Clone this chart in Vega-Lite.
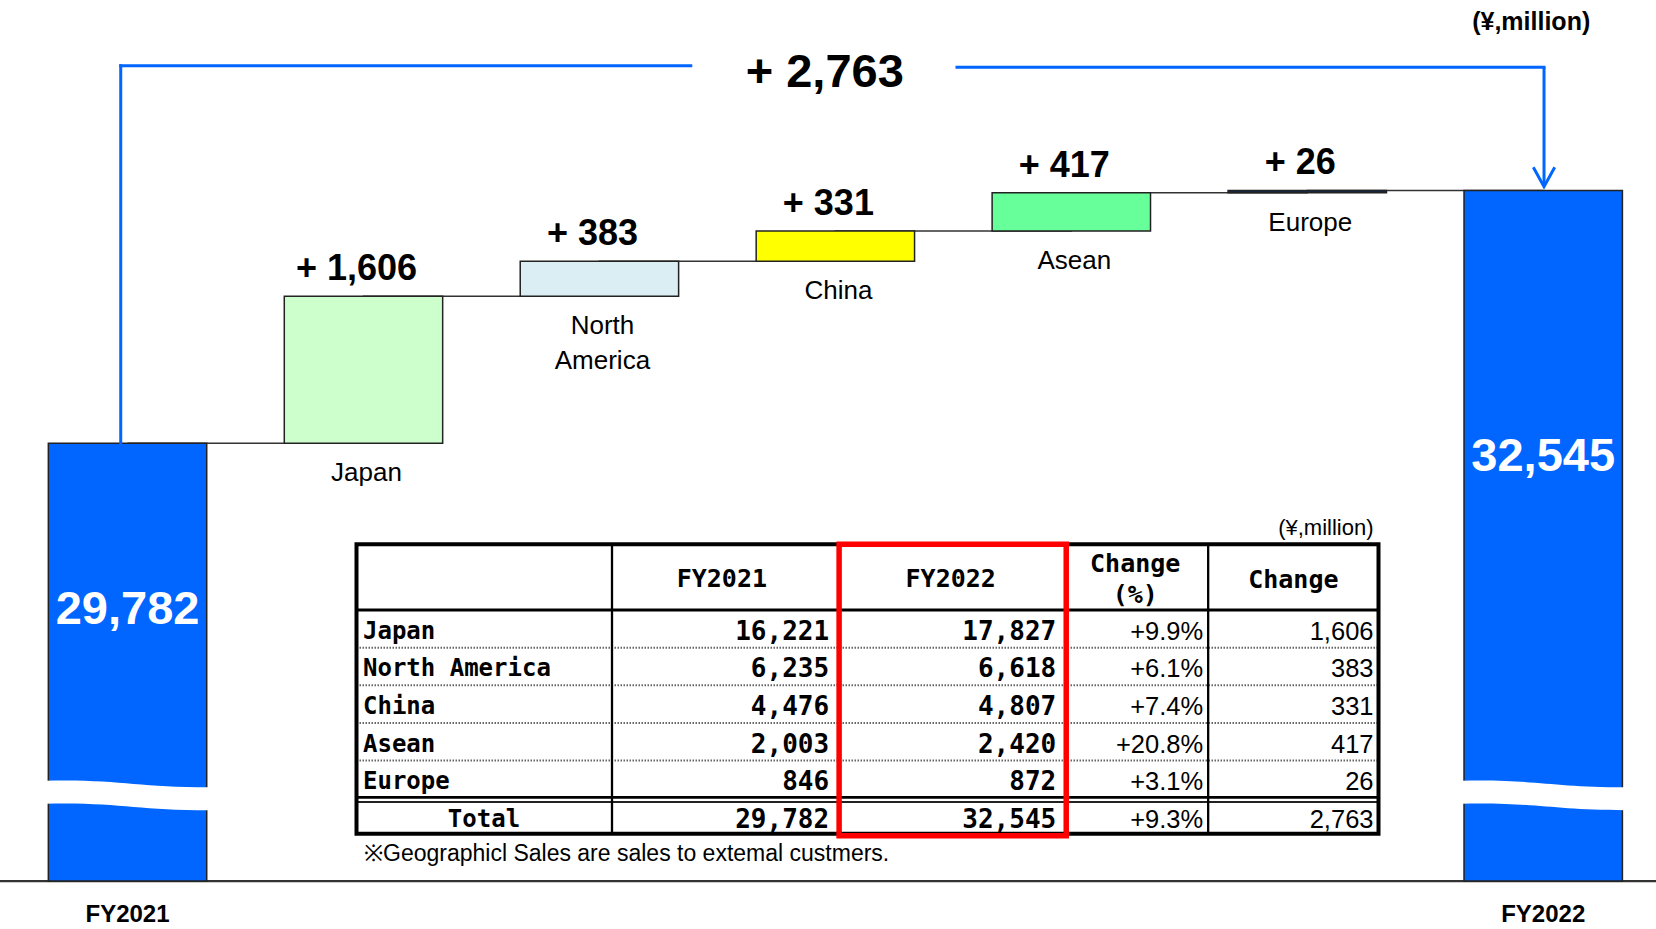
{
  "$schema": "https://vega.github.io/schema/vega-lite/v6.json",
  "width": 1656,
  "height": 929,
  "padding": 0,
  "autosize": "none",
  "background": "white",
  "config": {"view": {"stroke": null}, "axis": {"disable": true}, "legend": {"disable": true}},
  "datasets": {
    "bars": [
      {"i": 0, "cat": "FY2021", "start": 25000, "end": 29782, "label": "29,782", "name": ""},
      {"i": 1, "cat": "Japan", "start": 29782, "end": 31388, "label": "+ 1,606", "name": "Japan"},
      {"i": 2, "cat": "North America", "start": 31388, "end": 31771, "label": "+ 383", "name": "North\nAmerica"},
      {"i": 3, "cat": "China", "start": 31771, "end": 32102, "label": "+ 331", "name": "China"},
      {"i": 4, "cat": "Asean", "start": 32102, "end": 32519, "label": "+ 417", "name": "Asean"},
      {"i": 5, "cat": "Europe", "start": 32519, "end": 32545, "label": "+ 26", "name": "Europe"},
      {"i": 6, "cat": "FY2022", "start": 25000, "end": 32545, "label": "32,545", "name": ""}
    ],
    "breaks": [{"cat": "FY2021"}, {"cat": "FY2022"}],
    "regions": [
      {"region": "Japan", "row": 1, "FY2021": 16221, "FY2022": 17827, "pct": "+9.9%", "chg": 1606},
      {"region": "North America", "row": 2, "FY2021": 6235, "FY2022": 6618, "pct": "+6.1%", "chg": 383},
      {"region": "China", "row": 3, "FY2021": 4476, "FY2022": 4807, "pct": "+7.4%", "chg": 331},
      {"region": "Asean", "row": 4, "FY2021": 2003, "FY2022": 2420, "pct": "+20.8%", "chg": 417},
      {"region": "Europe", "row": 5, "FY2021": 846, "FY2022": 872, "pct": "+3.1%", "chg": 26},
      {"region": "Total", "row": 6, "FY2021": 29782, "FY2022": 32545, "pct": "+9.3%", "chg": 2763}
    ]
  },
  "layer": [
    {
      "layer": [
        {
          "data": {"name": "bars"},
          "mark": {"type": "line", "interpolate": "step-after", "color": "#333333", "strokeWidth": 1.5},
          "encoding": {
            "x": {"field": "cat", "type": "nominal", "scale": {"domain": ["FY2021", "Japan", "North America", "China", "Asean", "Europe", "FY2022"], "paddingInner": 0.3287, "paddingOuter": 0.1736, "align": 0.59}},
            "y": {"field": "end", "type": "quantitative", "scale": {"domain": [24476, 34625], "nice": false, "zero": false}},
            "order": {"field": "i"}
          }
        },
        {
          "data": {"values": [{}]},
          "mark": {"type": "rule", "color": "#333333", "strokeWidth": 2.3},
          "encoding": {
            "y": {"datum": 25000, "type": "quantitative", "scale": {"domain": [24476, 34625], "nice": false, "zero": false}}
          }
        },
        {
          "data": {"name": "bars"},
          "mark": {"type": "bar", "stroke": "#222222", "strokeWidth": 1.5},
          "encoding": {
            "x": {"field": "cat", "type": "nominal", "scale": {"domain": ["FY2021", "Japan", "North America", "China", "Asean", "Europe", "FY2022"], "paddingInner": 0.3287, "paddingOuter": 0.1736, "align": 0.59}},
            "y": {"field": "start", "type": "quantitative", "scale": {"domain": [24476, 34625], "nice": false, "zero": false}},
            "y2": {"field": "end"},
            "color": {"field": "cat", "type": "nominal", "legend": null, "scale": {"domain": ["FY2021", "Japan", "North America", "China", "Asean", "Europe", "FY2022"], "range": ["#0066FF", "#CCFFCC", "#DAEEF3", "#FFFF00", "#66FF99", "#13294B", "#0066FF"]}}
          }
        },
        {
          "data": {"name": "breaks"},
          "mark": {"type": "point", "shape": "M-1,-0.18C-0.1,-0.2 0.1,-0.1 1,-0.1L1,0.18C0.1,0.18 -0.1,0.08 -1,0.1Z", "size": 26896, "filled": true, "color": "#FFFFFF", "opacity": 1, "strokeWidth": 0},
          "encoding": {
            "x": {"field": "cat", "type": "nominal", "scale": {"domain": ["FY2021", "Japan", "North America", "China", "Asean", "Europe", "FY2022"], "paddingInner": 0.3287, "paddingOuter": 0.1736, "align": 0.59}},
            "y": {"datum": 25935, "type": "quantitative", "scale": {"domain": [24476, 34625], "nice": false, "zero": false}}
          }
        },
        {
          "data": {"values": [{}]},
          "mark": {"type": "rule", "color": "#0066FF", "strokeWidth": 3, "xOffset": -6.8, "strokeCap": "square"},
          "encoding": {
            "x": {"datum": "FY2021", "type": "nominal", "scale": {"domain": ["FY2021", "Japan", "North America", "China", "Asean", "Europe", "FY2022"], "paddingInner": 0.3287, "paddingOuter": 0.1736, "align": 0.59}},
            "y": {"datum": 29782, "type": "quantitative", "scale": {"domain": [24476, 34625], "nice": false, "zero": false}},
            "y2": {"datum": 33907}
          }
        },
        {
          "data": {"values": [{}]},
          "mark": {"type": "rule", "color": "#0066FF", "strokeWidth": 3, "xOffset": -6.8, "x2Offset": -144.6, "strokeCap": "square"},
          "encoding": {
            "x": {"datum": "FY2021", "type": "nominal", "scale": {"domain": ["FY2021", "Japan", "North America", "China", "Asean", "Europe", "FY2022"], "paddingInner": 0.3287, "paddingOuter": 0.1736, "align": 0.59}},
            "x2": {"datum": "China"},
            "y": {"datum": 33907, "type": "quantitative", "scale": {"domain": [24476, 34625], "nice": false, "zero": false}}
          }
        },
        {
          "data": {"values": [{}]},
          "mark": {"type": "rule", "color": "#0066FF", "strokeWidth": 3, "xOffset": 121.6, "x2Offset": 0.8, "strokeCap": "square"},
          "encoding": {
            "x": {"datum": "China", "type": "nominal", "scale": {"domain": ["FY2021", "Japan", "North America", "China", "Asean", "Europe", "FY2022"], "paddingInner": 0.3287, "paddingOuter": 0.1736, "align": 0.59}},
            "x2": {"datum": "FY2022"},
            "y": {"datum": 33890, "type": "quantitative", "scale": {"domain": [24476, 34625], "nice": false, "zero": false}}
          }
        },
        {
          "data": {"values": [{}]},
          "mark": {"type": "rule", "color": "#0066FF", "strokeWidth": 3, "xOffset": 0.8},
          "encoding": {
            "x": {"datum": "FY2022", "type": "nominal", "scale": {"domain": ["FY2021", "Japan", "North America", "China", "Asean", "Europe", "FY2022"], "paddingInner": 0.3287, "paddingOuter": 0.1736, "align": 0.59}},
            "y": {"datum": 33890, "type": "quantitative", "scale": {"domain": [24476, 34625], "nice": false, "zero": false}},
            "y2": {"datum": 32600}
          }
        },
        {
          "data": {"values": [{}]},
          "mark": {"type": "point", "shape": "M-1,-1.82L0,0L1,-1.82", "size": 458, "filled": false, "color": "#0066FF", "opacity": 1, "strokeWidth": 3, "xOffset": 0.8},
          "encoding": {
            "x": {"datum": "FY2022", "type": "nominal", "scale": {"domain": ["FY2021", "Japan", "North America", "China", "Asean", "Europe", "FY2022"], "paddingInner": 0.3287, "paddingOuter": 0.1736, "align": 0.59}},
            "y": {"datum": 32586, "type": "quantitative", "scale": {"domain": [24476, 34625], "nice": false, "zero": false}}
          }
        },
        {
          "data": {"name": "bars"},
          "transform": [{"filter": "datum.i >= 1 && datum.i <= 5"}],
          "mark": {"type": "text", "font": "Liberation Sans", "fontWeight": "bold", "fontSize": 36, "baseline": "alphabetic", "align": "center", "dy": -16, "dx": -7, "color": "#000000"},
          "encoding": {
            "x": {"field": "cat", "type": "nominal", "scale": {"domain": ["FY2021", "Japan", "North America", "China", "Asean", "Europe", "FY2022"], "paddingInner": 0.3287, "paddingOuter": 0.1736, "align": 0.59}},
            "y": {"field": "end", "type": "quantitative", "scale": {"domain": [24476, 34625], "nice": false, "zero": false}},
            "text": {"field": "label"}
          }
        },
        {
          "data": {"name": "bars"},
          "transform": [{"filter": "datum.i >= 1 && datum.i <= 5"}],
          "mark": {"type": "text", "font": "Liberation Sans", "fontSize": 26, "baseline": "top", "align": "center", "dy": 17, "dx": 3, "lineBreak": "\n", "lineHeight": 35, "color": "#000000"},
          "encoding": {
            "x": {"field": "cat", "type": "nominal", "scale": {"domain": ["FY2021", "Japan", "North America", "China", "Asean", "Europe", "FY2022"], "paddingInner": 0.3287, "paddingOuter": 0.1736, "align": 0.59}},
            "y": {"field": "start", "type": "quantitative", "scale": {"domain": [24476, 34625], "nice": false, "zero": false}},
            "text": {"field": "name"}
          }
        },
        {
          "data": {"name": "bars"},
          "transform": [{"filter": "datum.cat == 'FY2021'"}],
          "mark": {"type": "text", "font": "Liberation Sans", "fontWeight": "bold", "fontSize": 47, "baseline": "middle", "align": "center", "dy": 167, "color": "#FFFFFF"},
          "encoding": {
            "x": {"field": "cat", "type": "nominal", "scale": {"domain": ["FY2021", "Japan", "North America", "China", "Asean", "Europe", "FY2022"], "paddingInner": 0.3287, "paddingOuter": 0.1736, "align": 0.59}},
            "y": {"field": "end", "type": "quantitative", "scale": {"domain": [24476, 34625], "nice": false, "zero": false}},
            "text": {"field": "label"}
          }
        },
        {
          "data": {"name": "bars"},
          "transform": [{"filter": "datum.cat == 'FY2022'"}],
          "mark": {"type": "text", "font": "Liberation Sans", "fontWeight": "bold", "fontSize": 47, "baseline": "middle", "align": "center", "dy": 266.6, "color": "#FFFFFF"},
          "encoding": {
            "x": {"field": "cat", "type": "nominal", "scale": {"domain": ["FY2021", "Japan", "North America", "China", "Asean", "Europe", "FY2022"], "paddingInner": 0.3287, "paddingOuter": 0.1736, "align": 0.59}},
            "y": {"field": "end", "type": "quantitative", "scale": {"domain": [24476, 34625], "nice": false, "zero": false}},
            "text": {"field": "label"}
          }
        },
        {
          "data": {"name": "bars"},
          "transform": [{"filter": "datum.i == 0 || datum.i == 6"}],
          "mark": {"type": "text", "font": "Liberation Sans", "fontWeight": "bold", "fontSize": 24, "baseline": "middle", "align": "center", "dy": 33.5, "color": "#000000"},
          "encoding": {
            "x": {"field": "cat", "type": "nominal", "scale": {"domain": ["FY2021", "Japan", "North America", "China", "Asean", "Europe", "FY2022"], "paddingInner": 0.3287, "paddingOuter": 0.1736, "align": 0.59}},
            "y": {"field": "start", "type": "quantitative", "scale": {"domain": [24476, 34625], "nice": false, "zero": false}},
            "text": {"field": "cat"}
          }
        },
        {
          "data": {"values": [{}]},
          "mark": {"type": "text", "font": "Liberation Sans", "fontWeight": "bold", "fontSize": 47, "baseline": "middle", "align": "center", "dx": -10.6, "dy": 7.3, "color": "#000000"},
          "encoding": {
            "x": {"datum": "China", "type": "nominal", "scale": {"domain": ["FY2021", "Japan", "North America", "China", "Asean", "Europe", "FY2022"], "paddingInner": 0.3287, "paddingOuter": 0.1736, "align": 0.59}},
            "y": {"datum": 33907, "type": "quantitative", "scale": {"domain": [24476, 34625], "nice": false, "zero": false}},
            "text": {"value": "+ 2,763"}
          }
        },
        {
          "data": {"values": [{}]},
          "mark": {"type": "text", "font": "Liberation Sans", "fontWeight": "bold", "fontSize": 25, "baseline": "middle", "align": "center", "dx": -12, "dy": -43.4, "color": "#000000"},
          "encoding": {
            "x": {"datum": "FY2022", "type": "nominal", "scale": {"domain": ["FY2021", "Japan", "North America", "China", "Asean", "Europe", "FY2022"], "paddingInner": 0.3287, "paddingOuter": 0.1736, "align": 0.59}},
            "y": {"datum": 33907, "type": "quantitative", "scale": {"domain": [24476, 34625], "nice": false, "zero": false}},
            "text": {"value": "(¥,million)"}
          }
        }
      ]
    },
    {
      "layer": [
        {
          "data": {"name": "regions"},
          "transform": [{"filter": "datum.row <= 4"}],
          "mark": {"type": "rule", "color": "#666666", "strokeWidth": 2, "strokeDash": [1.5, 1.5], "yOffset": 18.8},
          "encoding": {
            "x": {"datum": 0, "type": "quantitative", "scale": {"domain": [0, 36], "range": [356.5, 1378.5], "nice": false, "zero": false}},
            "x2": {"datum": 36},
            "y": {"field": "row", "type": "quantitative", "scale": {"domain": [-1.25, 6.45], "range": [544.3, 833.8], "nice": false, "zero": false}}
          }
        },
        {
          "data": {"values": [{}]},
          "mark": {"type": "rule", "color": "#000000", "strokeWidth": 3},
          "encoding": {
            "x": {"datum": 0, "type": "quantitative", "scale": {"domain": [0, 36], "range": [356.5, 1378.5], "nice": false, "zero": false}},
            "x2": {"datum": 36},
            "y": {"datum": 0.5, "type": "quantitative", "scale": {"domain": [-1.25, 6.45], "range": [544.3, 833.8], "nice": false, "zero": false}}
          }
        },
        {
          "data": {"values": [{}]},
          "mark": {"type": "rule", "color": "#000000", "strokeWidth": 2.7},
          "encoding": {
            "x": {"datum": 0, "type": "quantitative", "scale": {"domain": [0, 36], "range": [356.5, 1378.5], "nice": false, "zero": false}},
            "x2": {"datum": 36},
            "y": {"datum": 5.48, "type": "quantitative", "scale": {"domain": [-1.25, 6.45], "range": [544.3, 833.8], "nice": false, "zero": false}}
          }
        },
        {
          "data": {"values": [{}]},
          "mark": {"type": "rule", "color": "#222222", "strokeWidth": 2},
          "encoding": {
            "x": {"datum": 0, "type": "quantitative", "scale": {"domain": [0, 36], "range": [356.5, 1378.5], "nice": false, "zero": false}},
            "x2": {"datum": 36},
            "y": {"datum": 5.605, "type": "quantitative", "scale": {"domain": [-1.25, 6.45], "range": [544.3, 833.8], "nice": false, "zero": false}}
          }
        },
        {
          "data": {"values": [{}]},
          "mark": {"type": "rule", "color": "#000000", "strokeWidth": 2.3},
          "encoding": {
            "x": {"datum": 9, "type": "quantitative", "scale": {"domain": [0, 36], "range": [356.5, 1378.5], "nice": false, "zero": false}},
            "y": {"datum": -1.25, "type": "quantitative", "scale": {"domain": [-1.25, 6.45], "range": [544.3, 833.8], "nice": false, "zero": false}},
            "y2": {"datum": 6.45}
          }
        },
        {
          "data": {"values": [{}]},
          "mark": {"type": "rule", "color": "#000000", "strokeWidth": 2.3},
          "encoding": {
            "x": {"datum": 17, "type": "quantitative", "scale": {"domain": [0, 36], "range": [356.5, 1378.5], "nice": false, "zero": false}},
            "y": {"datum": -1.25, "type": "quantitative", "scale": {"domain": [-1.25, 6.45], "range": [544.3, 833.8], "nice": false, "zero": false}},
            "y2": {"datum": 6.45}
          }
        },
        {
          "data": {"values": [{}]},
          "mark": {"type": "rule", "color": "#000000", "strokeWidth": 2.3},
          "encoding": {
            "x": {"datum": 25, "type": "quantitative", "scale": {"domain": [0, 36], "range": [356.5, 1378.5], "nice": false, "zero": false}},
            "y": {"datum": -1.25, "type": "quantitative", "scale": {"domain": [-1.25, 6.45], "range": [544.3, 833.8], "nice": false, "zero": false}},
            "y2": {"datum": 6.45}
          }
        },
        {
          "data": {"values": [{}]},
          "mark": {"type": "rule", "color": "#000000", "strokeWidth": 2.3},
          "encoding": {
            "x": {"datum": 30, "type": "quantitative", "scale": {"domain": [0, 36], "range": [356.5, 1378.5], "nice": false, "zero": false}},
            "y": {"datum": -1.25, "type": "quantitative", "scale": {"domain": [-1.25, 6.45], "range": [544.3, 833.8], "nice": false, "zero": false}},
            "y2": {"datum": 6.45}
          }
        },
        {
          "data": {"values": [{}]},
          "mark": {"type": "rect", "fillOpacity": 0, "stroke": "#000000", "strokeWidth": 4},
          "encoding": {
            "x": {"datum": 0, "type": "quantitative", "scale": {"domain": [0, 36], "range": [356.5, 1378.5], "nice": false, "zero": false}},
            "x2": {"datum": 36},
            "y": {"datum": -1.25, "type": "quantitative", "scale": {"domain": [-1.25, 6.45], "range": [544.3, 833.8], "nice": false, "zero": false}},
            "y2": {"datum": 6.45}
          }
        },
        {
          "data": {"values": [{}]},
          "mark": {"type": "rect", "fillOpacity": 0, "stroke": "#FF0000", "strokeWidth": 5.5},
          "encoding": {
            "x": {"datum": 17, "type": "quantitative", "scale": {"domain": [0, 36], "range": [356.5, 1378.5], "nice": false, "zero": false}},
            "x2": {"datum": 25},
            "y": {"datum": -1.25, "type": "quantitative", "scale": {"domain": [-1.25, 6.45], "range": [544.3, 833.8], "nice": false, "zero": false}},
            "y2": {"datum": 6.5}
          }
        },
        {
          "data": {"name": "regions"},
          "transform": [{"filter": "datum.row <= 5"}],
          "mark": {"type": "text", "font": "DejaVu Sans Mono", "fontWeight": "bold", "fontSize": 24, "align": "left", "baseline": "middle", "dx": 6.5, "dy": 3, "color": "#000000"},
          "encoding": {
            "x": {"datum": 0, "type": "quantitative", "scale": {"domain": [0, 36], "range": [356.5, 1378.5], "nice": false, "zero": false}},
            "y": {"field": "row", "type": "quantitative", "scale": {"domain": [-1.25, 6.45], "range": [544.3, 833.8], "nice": false, "zero": false}},
            "text": {"field": "region"}
          }
        },
        {
          "data": {"name": "regions"},
          "transform": [{"filter": "datum.row == 6"}],
          "mark": {"type": "text", "font": "DejaVu Sans Mono", "fontWeight": "bold", "fontSize": 24, "align": "center", "baseline": "middle", "dy": 3, "color": "#000000"},
          "encoding": {
            "x": {"datum": 4.49, "type": "quantitative", "scale": {"domain": [0, 36], "range": [356.5, 1378.5], "nice": false, "zero": false}},
            "y": {"field": "row", "type": "quantitative", "scale": {"domain": [-1.25, 6.45], "range": [544.3, 833.8], "nice": false, "zero": false}},
            "text": {"field": "region"}
          }
        },
        {
          "data": {"name": "regions"},
          "mark": {"type": "text", "font": "DejaVu Sans Mono", "fontWeight": "bold", "fontSize": 26, "align": "right", "baseline": "middle", "dx": -10, "dy": 3, "color": "#000000"},
          "encoding": {
            "x": {"datum": 17, "type": "quantitative", "scale": {"domain": [0, 36], "range": [356.5, 1378.5], "nice": false, "zero": false}},
            "y": {"field": "row", "type": "quantitative", "scale": {"domain": [-1.25, 6.45], "range": [544.3, 833.8], "nice": false, "zero": false}},
            "text": {"field": "FY2021", "format": ","}
          }
        },
        {
          "data": {"name": "regions"},
          "mark": {"type": "text", "font": "DejaVu Sans Mono", "fontWeight": "bold", "fontSize": 26, "align": "right", "baseline": "middle", "dx": -10, "dy": 3, "color": "#000000"},
          "encoding": {
            "x": {"datum": 25, "type": "quantitative", "scale": {"domain": [0, 36], "range": [356.5, 1378.5], "nice": false, "zero": false}},
            "y": {"field": "row", "type": "quantitative", "scale": {"domain": [-1.25, 6.45], "range": [544.3, 833.8], "nice": false, "zero": false}},
            "text": {"field": "FY2022", "format": ","}
          }
        },
        {
          "data": {"name": "regions"},
          "mark": {"type": "text", "font": "Liberation Sans", "fontSize": 25.5, "align": "right", "baseline": "middle", "dx": -5, "dy": 3, "color": "#000000"},
          "encoding": {
            "x": {"datum": 30, "type": "quantitative", "scale": {"domain": [0, 36], "range": [356.5, 1378.5], "nice": false, "zero": false}},
            "y": {"field": "row", "type": "quantitative", "scale": {"domain": [-1.25, 6.45], "range": [544.3, 833.8], "nice": false, "zero": false}},
            "text": {"field": "pct"}
          }
        },
        {
          "data": {"name": "regions"},
          "mark": {"type": "text", "font": "Liberation Sans", "fontSize": 25.5, "align": "right", "baseline": "middle", "dx": -5, "dy": 3, "color": "#000000"},
          "encoding": {
            "x": {"datum": 36, "type": "quantitative", "scale": {"domain": [0, 36], "range": [356.5, 1378.5], "nice": false, "zero": false}},
            "y": {"field": "row", "type": "quantitative", "scale": {"domain": [-1.25, 6.45], "range": [544.3, 833.8], "nice": false, "zero": false}},
            "text": {"field": "chg", "format": ","}
          }
        },
        {
          "data": {"values": [{}]},
          "mark": {"type": "text", "font": "DejaVu Sans Mono", "fontWeight": "bold", "fontSize": 25, "align": "center", "baseline": "middle", "color": "#000000"},
          "encoding": {
            "x": {"datum": 12.87, "type": "quantitative", "scale": {"domain": [0, 36], "range": [356.5, 1378.5], "nice": false, "zero": false}},
            "y": {"datum": -0.314, "type": "quantitative", "scale": {"domain": [-1.25, 6.45], "range": [544.3, 833.8], "nice": false, "zero": false}},
            "text": {"value": "FY2021"}
          }
        },
        {
          "data": {"values": [{}]},
          "mark": {"type": "text", "font": "DejaVu Sans Mono", "fontWeight": "bold", "fontSize": 25, "align": "center", "baseline": "middle", "color": "#000000"},
          "encoding": {
            "x": {"datum": 20.93, "type": "quantitative", "scale": {"domain": [0, 36], "range": [356.5, 1378.5], "nice": false, "zero": false}},
            "y": {"datum": -0.314, "type": "quantitative", "scale": {"domain": [-1.25, 6.45], "range": [544.3, 833.8], "nice": false, "zero": false}},
            "text": {"value": "FY2022"}
          }
        },
        {
          "data": {"values": [{}]},
          "mark": {"type": "text", "font": "DejaVu Sans Mono", "fontWeight": "bold", "fontSize": 25, "align": "center", "baseline": "middle", "color": "#000000"},
          "encoding": {
            "x": {"datum": 27.43, "type": "quantitative", "scale": {"domain": [0, 36], "range": [356.5, 1378.5], "nice": false, "zero": false}},
            "y": {"datum": -0.718, "type": "quantitative", "scale": {"domain": [-1.25, 6.45], "range": [544.3, 833.8], "nice": false, "zero": false}},
            "text": {"value": "Change"}
          }
        },
        {
          "data": {"values": [{}]},
          "mark": {"type": "text", "font": "DejaVu Sans Mono", "fontWeight": "bold", "fontSize": 25, "align": "center", "baseline": "middle", "color": "#000000"},
          "encoding": {
            "x": {"datum": 27.43, "type": "quantitative", "scale": {"domain": [0, 36], "range": [356.5, 1378.5], "nice": false, "zero": false}},
            "y": {"datum": 0.098, "type": "quantitative", "scale": {"domain": [-1.25, 6.45], "range": [544.3, 833.8], "nice": false, "zero": false}},
            "text": {"value": "(%)"}
          }
        },
        {
          "data": {"values": [{}]},
          "mark": {"type": "text", "font": "DejaVu Sans Mono", "fontWeight": "bold", "fontSize": 25, "align": "center", "baseline": "middle", "color": "#000000"},
          "encoding": {
            "x": {"datum": 33.0, "type": "quantitative", "scale": {"domain": [0, 36], "range": [356.5, 1378.5], "nice": false, "zero": false}},
            "y": {"datum": -0.3, "type": "quantitative", "scale": {"domain": [-1.25, 6.45], "range": [544.3, 833.8], "nice": false, "zero": false}},
            "text": {"value": "Change"}
          }
        },
        {
          "data": {"values": [{}]},
          "mark": {"type": "text", "font": "Liberation Sans", "fontSize": 23, "align": "left", "baseline": "middle", "dx": 7.5, "color": "#000000"},
          "encoding": {
            "x": {"datum": 0, "type": "quantitative", "scale": {"domain": [0, 36], "range": [356.5, 1378.5], "nice": false, "zero": false}},
            "y": {"datum": 7.0, "type": "quantitative", "scale": {"domain": [-1.25, 6.45], "range": [544.3, 833.8], "nice": false, "zero": false}},
            "text": {"value": "※Geographicl Sales are sales to extemal custmers."}
          }
        },
        {
          "data": {"values": [{}]},
          "mark": {"type": "text", "font": "Liberation Sans", "fontSize": 22, "align": "right", "baseline": "middle", "dx": -5, "color": "#000000"},
          "encoding": {
            "x": {"datum": 36, "type": "quantitative", "scale": {"domain": [0, 36], "range": [356.5, 1378.5], "nice": false, "zero": false}},
            "y": {"datum": -1.675, "type": "quantitative", "scale": {"domain": [-1.25, 6.45], "range": [544.3, 833.8], "nice": false, "zero": false}},
            "text": {"value": "(¥,million)"}
          }
        }
      ]
    }
  ],
  "resolve": {"scale": {"x": "independent", "y": "independent"}}
}
